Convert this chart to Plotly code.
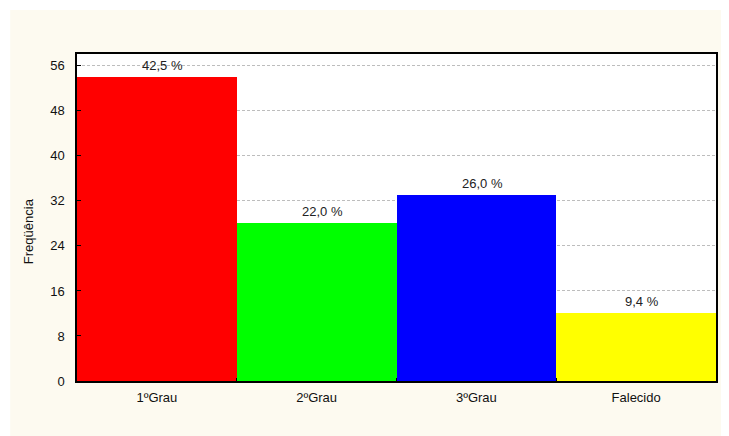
import plotly.graph_objects as go

categories = ["1ºGrau", "2ºGrau", "3ºGrau", "Falecido"]
frequencies = [54, 28, 33, 12]
colors = ["#FF0000", "#00FF00", "#0000FF", "#FFFF00"]
y_ticks = [0, 8, 16, 24, 32, 40, 48, 56]

total = sum(frequencies)
pct_labels = [f"{v / total * 100:.1f} %".replace(".", ",") for v in frequencies]

FONT = "Liberation Sans, Arial, sans-serif"
CREAM = "#FDFAF0"

fig = go.Figure()
fig.add_trace(go.Bar(
    x=categories, y=frequencies,
    marker=dict(color=colors, line=dict(width=0)),
    hoverinfo="x+y",
))

for c, v, t in zip(categories, frequencies, pct_labels):
    fig.add_annotation(x=c, y=v, text=t, showarrow=False, yshift=12, xshift=6,
                       font=dict(family=FONT, size=13, color="#222222"))

fig.add_annotation(x=-49 / 641, y=150 / 327, xref="paper", yref="paper", text="Freqüência",
                   textangle=-90, showarrow=False, xanchor="center", yanchor="middle",
                   font=dict(family=FONT, size=13, color="#111111"))

# white strips (outer margin) over cream background
fig.add_shape(type="rect", xref="paper", yref="paper", x0=-0.2, x1=1.1, y0=1.0 + 44 / 327, y1=1.3,
              fillcolor="white", line=dict(width=0), layer="below")
fig.add_shape(type="rect", xref="paper", yref="paper", x0=-0.2, x1=-67 / 641, y0=-0.3, y1=1.3,
              fillcolor="white", line=dict(width=0), layer="below")

fig.update_layout(
    width=721, height=428,
    margin=dict(l=69, r=11, t=46, b=55),
    paper_bgcolor=CREAM, plot_bgcolor="white",
    bargap=0, showlegend=False,
    font=dict(family=FONT, size=13, color="#111111"),
    xaxis=dict(
        type="category", range=[-0.5, 3.5], tickson="boundaries",
        ticks="inside", ticklen=3, tickcolor="black",
        showline=True, linecolor="black", linewidth=1.5, mirror=True,
        showgrid=False, tickfont=dict(size=13, color="#111111"),
        ticklabelstandoff=4, fixedrange=True,
    ),
    xaxis2=dict(
        overlaying="x", side="top", range=[-0.5, 3.5], tickvals=[0.3, 2.7],
        ticks="inside", ticklen=3, tickcolor="black", showticklabels=False,
        showline=False, showgrid=False, zeroline=False,
    ),
    yaxis=dict(
        range=[0, 58.1], tickvals=y_ticks, ticks="inside", ticklen=4, tickcolor="black",
        showline=True, linecolor="black", linewidth=1.5, mirror=True,
        showgrid=True, gridcolor="#BDBDBD", griddash="3px,2px", gridwidth=1,
        zeroline=False, ticklabelstandoff=8, tickfont=dict(size=13, color="#111111"),
    ),
    yaxis2=dict(
        overlaying="y", side="right", range=[0, 58.1], dtick=4, tick0=0,
        ticks="inside", ticklen=4, tickcolor="black", showticklabels=False,
        showline=False, showgrid=False, zeroline=False,
    ),
)

fig.write_html("out.html")
